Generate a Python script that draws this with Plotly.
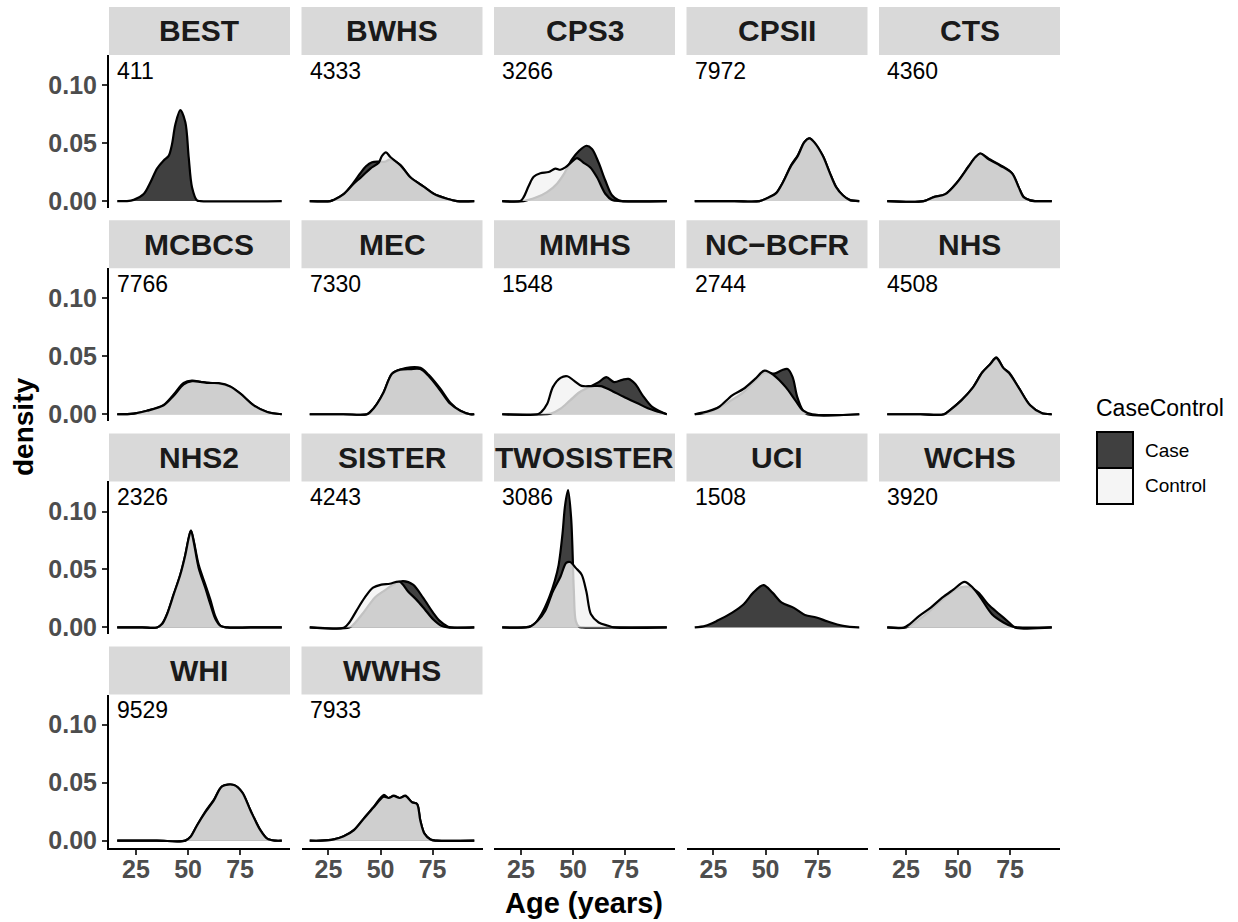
import plotly.graph_objects as go

# ---------------- data ----------------
STUDIES = ["BEST", "BWHS", "CPS3", "CPSII", "CTS", "MCBCS", "MEC", "MMHS", "NC\u2212BCFR",
           "NHS", "NHS2", "SISTER", "TWOSISTER", "UCI", "WCHS", "WHI", "WWHS"]
COUNTS = [411, 4333, 3266, 7972, 4360, 7766, 7330, 1548, 2744, 4508, 2326, 4243, 3086,
          1508, 3920, 9529, 7933]
X_TICKS = [25, 50, 75]
Y_TICKS = [0.00, 0.05, 0.10]
GROUPS = ["Case", "Control"]

# (age, density) pairs
BEST_CASE = [(16, 0), (20.7, 0), (23.9, 0.001), (28.7, 0.006), (31.9, 0.016), (35.1, 0.028),
             (38.3, 0.035), (40.7, 0.039), (42.3, 0.049), (43.9, 0.066), (46.3, 0.0785),
             (48.7, 0.068), (50.3, 0.038), (51.9, 0.012), (54.3, 0.0006), (56, 0), (95, 0)]
BEST_CONTROL = []

BWHS_CASE = [(16, 0), (25.9, 0), (27.5, 0.001), (32.3, 0.006), (37.1, 0.016), (40.3, 0.024),
             (43, 0.030), (45.9, 0.0335), (49.1, 0.034), (52.3, 0.034), (54.7, 0.036),
             (59.5, 0.031), (64.3, 0.0205), (70.7, 0.0125), (75.5, 0.0063), (81.9, 0.002),
             (86.7, 0), (95, 0)]
BWHS_CONTROL = [(16, 0), (25.9, 0), (27.5, 0.001), (32.3, 0.006), (37.1, 0.015), (40.3, 0.020),
                (45.1, 0.028), (49.1, 0.033), (50.7, 0.039), (52.6, 0.042), (54.7, 0.038),
                (59.5, 0.031), (64.3, 0.0205), (70.7, 0.0125), (75.5, 0.0063), (81.9, 0.002),
                (86.7, 0), (95, 0)]

CPS3_CASE = [(16, 0), (26.3, 0), (32.7, 0.0034), (37.5, 0.0077), (42.3, 0.015), (45.5, 0.023),
             (49.5, 0.036), (52.7, 0.043), (56.4, 0.0477), (59.1, 0.045), (62.3, 0.033),
             (65.5, 0.0177), (68.7, 0.005), (71.9, 0.0006), (74, 0), (95, 0)]
CPS3_CONTROL = [(16, 0), (24.7, 0), (26.3, 0.0034), (28.7, 0.013), (31.1, 0.021), (34.3, 0.024),
                (38.3, 0.025), (41.5, 0.028), (43.9, 0.027), (46.3, 0.029), (49.5, 0.034),
                (51.9, 0.037), (55.1, 0.033), (58.3, 0.029), (61.5, 0.0205), (65.5, 0.0063),
                (68.7, 0.001), (72.7, 0), (95, 0)]

CPSII_CASE = [(16, 0), (35, 0), (47.1, 0), (51.9, 0.0034), (55.1, 0.007), (58.3, 0.016),
              (62.3, 0.031), (65.5, 0.0395), (68.7, 0.051), (71.1, 0.054), (73.5, 0.050),
              (77.5, 0.039), (80.7, 0.025), (83.9, 0.012), (87.1, 0.005), (90.3, 0.001), (95, 0)]
CPSII_CONTROL = [(16, 0), (35, 0), (47.1, 0), (51.9, 0.0034), (55.1, 0.0068), (58.3, 0.016),
                 (62.3, 0.0305), (65.5, 0.039), (68.7, 0.051), (71.1, 0.054), (73.5, 0.0505),
                 (77.5, 0.039), (80.7, 0.025), (83.9, 0.012), (87.1, 0.005), (90.3, 0.001),
                 (95, 0)]

CTS_CASE = [(16, 0), (33.5, 0), (38.3, 0.0034), (43.9, 0.006), (49.5, 0.016), (55.1, 0.030),
            (58.3, 0.0375), (60.7, 0.041), (64.7, 0.0365), (70.3, 0.031), (75.9, 0.024),
            (79.1, 0.012), (81.5, 0.0034), (84.7, 0.0006), (87, 0), (95, 0)]
CTS_CONTROL = [(16, 0), (33.5, 0), (38.3, 0.0034), (43.9, 0.006), (49.5, 0.016), (55.1, 0.030),
               (58.3, 0.0377), (60.7, 0.041), (64.7, 0.036), (70.3, 0.0305), (75.9, 0.024),
               (79.1, 0.012), (81.5, 0.0034), (84.7, 0.0006), (87, 0), (95, 0)]

MCBCS_CASE = [(16, 0), (23.9, 0.0006), (30.3, 0.003), (38.3, 0.008), (43.1, 0.017), (47.9, 0.027),
              (51.9, 0.029), (55.9, 0.028), (59.9, 0.027), (64.7, 0.0265), (70.3, 0.0235),
              (75.2, 0.0175), (81.6, 0.0075), (88, 0.002), (95, 0)]
MCBCS_CONTROL = [(16, 0), (23.9, 0.0006), (30.3, 0.003), (38.3, 0.0077), (43.1, 0.016),
                 (47.9, 0.0257), (51.9, 0.0285), (55.9, 0.028), (59.9, 0.027), (64.7, 0.0268),
                 (70.3, 0.024), (75.2, 0.0177), (81.6, 0.0077), (88, 0.002), (95, 0)]

MEC_CASE = [(16, 0), (32, 0), (43.5, 0), (45.1, 0.002), (48.3, 0.009), (51.5, 0.019), (55.5, 0.035),
            (59.5, 0.0385), (64.3, 0.0405), (69.1, 0.040), (73.1, 0.034), (78.7, 0.022),
            (83.5, 0.010), (88.3, 0.003), (93, 0), (95, 0)]
MEC_CONTROL = [(16, 0), (32, 0), (43.5, 0), (45.1, 0.002), (48.3, 0.009), (51.5, 0.019),
               (55.5, 0.035), (59.5, 0.0385), (64.3, 0.039), (69.1, 0.039), (73.1, 0.033),
               (78.7, 0.0205), (83.5, 0.009), (88.3, 0.003), (93, 0), (95, 0)]

MMHS_CASE = [(16, 0), (37, 0), (39.4, 0.0006), (44, 0.0049), (48.6, 0.012), (53.1, 0.019),
             (57.7, 0.0234), (62.3, 0.0277), (66, 0.032), (69.7, 0.0277), (73.7, 0.0297),
             (76.6, 0.0305), (79.8, 0.0263), (83.4, 0.0163), (88, 0.0063), (93.5, 0.0011), (95, 0)]
MMHS_CONTROL = [(16, 0), (33, 0), (34.8, 0.002), (37.6, 0.009), (40.3, 0.0234), (44, 0.0314),
                (47.3, 0.0328), (50.4, 0.029), (54.1, 0.0245), (58.7, 0.0243), (63.3, 0.0243),
                (67.8, 0.021), (74.3, 0.015), (80.7, 0.0097), (86.2, 0.0049), (91.7, 0.0017),
                (95, 0)]

NCBCFR_CASE = [(16, 0), (23, 0.002), (32.2, 0.0106), (39.5, 0.019), (45, 0.029), (49.6, 0.036),
               (54.2, 0.035), (57.8, 0.038), (60.6, 0.039), (63, 0.032), (65.2, 0.015),
               (67.9, 0.0034), (70, 0), (95, 0)]
NCBCFR_CONTROL = [(16, 0), (23, 0.0029), (27.6, 0.0063), (34, 0.0163), (39.5, 0.022), (45, 0.0305),
                  (49.6, 0.0377), (54.2, 0.0334), (59.7, 0.0234), (64.3, 0.012), (67.9, 0.0034),
                  (72.5, 0), (95, 0)]

NHS_CASE = [(16, 0), (32, 0), (43.3, 0), (46, 0.0034), (51.6, 0.012), (57.1, 0.023), (61.6, 0.036),
            (65.3, 0.043), (68.4, 0.049), (71.7, 0.040), (74.5, 0.036), (79.1, 0.023),
            (84.6, 0.0077), (90.1, 0.001), (94.7, 0), (95, 0)]
NHS_CONTROL = [(16, 0), (32, 0), (43.3, 0), (46, 0.0034), (51.6, 0.012), (57.1, 0.023),
               (61.6, 0.036), (65.3, 0.043), (68.4, 0.0485), (71.7, 0.040), (74.5, 0.0355),
               (79.1, 0.023), (84.6, 0.0077), (90.1, 0.001), (94.7, 0), (95, 0)]

NHS2_CASE = [(16, 0), (28, 0), (35.1, 0), (37.5, 0.0029), (39.9, 0.0114), (43.1, 0.0285),
             (46.3, 0.0457), (48.7, 0.0628), (50.3, 0.077), (51.4, 0.0836), (52.7, 0.075),
             (55.1, 0.054), (58.3, 0.037), (60.7, 0.024), (63.2, 0.009), (65.6, 0.0014),
             (68.8, 0), (80, 0), (95, 0)]
NHS2_CONTROL = [(16, 0), (28, 0), (35.1, 0), (37.5, 0.0029), (39.9, 0.0114), (43.1, 0.0285),
                (46.3, 0.0457), (48.7, 0.0628), (50.3, 0.077), (51.4, 0.0836), (52.7, 0.074),
                (55.1, 0.0514), (58.3, 0.034), (60.7, 0.020), (63.2, 0.0071), (65.6, 0.0014),
                (68.8, 0), (80, 0), (95, 0)]

SISTER_CASE = [(16, 0), (35, 0), (37.2, 0.0029), (42.4, 0.0143), (47.2, 0.0257), (52, 0.032),
               (57.6, 0.0385), (60.8, 0.040), (65.6, 0.037), (70.4, 0.0257), (75.2, 0.0128),
               (78.4, 0.0057), (82.4, 0.0006), (84, 0), (95, 0)]
SISTER_CONTROL = [(16, 0), (32.6, 0), (35, 0.0043), (38.4, 0.0143), (42.4, 0.0257), (46.4, 0.0343),
                  (50.4, 0.037), (54.4, 0.0377), (59.2, 0.0394), (63.2, 0.031), (67.2, 0.024),
                  (71.2, 0.0157), (75.2, 0.0071), (79.2, 0.0014), (82.4, 0), (95, 0)]

TWOSISTER_CASE = [(16, 0), (26.6, 0), (28.3, 0.0006), (31.1, 0.0023), (34.8, 0.0114),
                  (38.5, 0.0257), (41.2, 0.040), (43.1, 0.054), (44.9, 0.080), (46.2, 0.1056),
                  (47.6, 0.1184), (49.1, 0.094), (50.4, 0.031), (51.3, 0.0057), (52.8, 0.0006),
                  (54.5, 0), (70, 0), (95, 0)]
TWOSISTER_CONTROL = [(16, 0), (27, 0), (29.3, 0.0006), (33, 0.0057), (36.6, 0.0143), (40.3, 0.031),
                     (44, 0.044), (46.7, 0.0557), (48.6, 0.0565), (51.3, 0.0514), (54.1, 0.0457),
                     (56.4, 0.031), (58.6, 0.0114), (62.3, 0.0043), (66.9, 0.0014), (69.6, 0),
                     (95, 0)]

UCI_CASE = [(16, 0), (21.1, 0.0014), (26.7, 0.0057), (34, 0.0128), (39.5, 0.020), (44.1, 0.030),
            (49, 0.0365), (53.3, 0.030), (57.8, 0.0214), (63.4, 0.0171), (68.9, 0.0108),
            (74.4, 0.0086), (79.9, 0.0051), (87.2, 0.0014), (94.5, 0), (95, 0)]
UCI_CONTROL = []

WCHS_CASE = [(16, 0), (25, 0), (31.4, 0.007), (36.9, 0.015), (42.4, 0.024), (49.7, 0.0337),
             (55.2, 0.035), (59.8, 0.030), (64.4, 0.020), (69.9, 0.0114), (74.5, 0.0043),
             (77.3, 0), (95, 0)]
WCHS_CONTROL = [(16, 0), (24, 0), (26.8, 0.0029), (31.4, 0.010), (36.9, 0.0171), (42.4, 0.0257),
                (47.9, 0.0328), (53.1, 0.0394), (57.1, 0.0343), (60.8, 0.0257), (66.3, 0.0114),
                (71.8, 0.0043), (76.4, 0.0006), (79, 0), (95, 0)]

WHI_CASE = [(16, 0), (35, 0), (48.7, 0), (51.1, 0.0031), (54.3, 0.0131), (58.3, 0.025),
            (62.3, 0.035), (66.4, 0.047), (72, 0.048), (76, 0.0417), (80, 0.026), (84.8, 0.0088),
            (88, 0.0017), (92, 0), (95, 0)]
WHI_CONTROL = [(16, 0), (35, 0), (48.7, 0), (51.1, 0.0031), (54.3, 0.0131), (58.3, 0.0245),
               (62.3, 0.0345), (66.4, 0.0468), (72, 0.048), (76, 0.0417), (80, 0.026),
               (84.8, 0.0088), (88, 0.0017), (92, 0), (95, 0)]

WWHS_CASE = [(16, 0), (21.1, 0), (27.5, 0.0011), (32.3, 0.0037), (37.1, 0.009), (41.9, 0.019),
             (46.7, 0.029), (51.5, 0.0394), (53.9, 0.0368), (56.3, 0.0388), (59.2, 0.0368),
             (61.9, 0.0388), (65.1, 0.0331), (67.5, 0.0317), (69.1, 0.0174), (71.1, 0.006),
             (74, 0.0009), (77, 0), (95, 0)]
WWHS_CONTROL = [(16, 0), (21.1, 0), (27.5, 0.0011), (32.3, 0.0037), (37.1, 0.0088), (41.9, 0.0188),
                (46.7, 0.0288), (51.5, 0.038), (53.9, 0.0368), (56.3, 0.0385), (59.2, 0.0368),
                (61.9, 0.0385), (65.1, 0.0331), (67.5, 0.0317), (69.1, 0.0174), (71.1, 0.006),
                (74, 0.0009), (77, 0), (95, 0)]

CASE_CURVES = [BEST_CASE, BWHS_CASE, CPS3_CASE, CPSII_CASE, CTS_CASE, MCBCS_CASE, MEC_CASE,
               MMHS_CASE, NCBCFR_CASE, NHS_CASE, NHS2_CASE, SISTER_CASE, TWOSISTER_CASE,
               UCI_CASE, WCHS_CASE, WHI_CASE, WWHS_CASE]
CONTROL_CURVES = [BEST_CONTROL, BWHS_CONTROL, CPS3_CONTROL, CPSII_CONTROL, CTS_CONTROL,
                  MCBCS_CONTROL, MEC_CONTROL, MMHS_CONTROL, NCBCFR_CONTROL, NHS_CONTROL,
                  NHS2_CONTROL, SISTER_CONTROL, TWOSISTER_CONTROL, UCI_CONTROL, WCHS_CONTROL,
                  WHI_CONTROL, WWHS_CONTROL]

# ---------------- style / layout ----------------
W, H = 1238, 922
NCOL, NROW = 5, 4
COL_LEFT0, COL_PITCH, PANEL_W = 109, 192.5, 181
ROW_TOP0, ROW_PITCH, PANEL_H, STRIP_H = 55, 213.2, 153, 48
X_RANGE = [12.05, 98.95]
Y_RANGE = [-0.006, 0.126]
FONT = "Liberation Sans"
CASE_FILL = "#404040"
CONTROL_FILL = "rgba(242,242,242,0.8)"
FILLS = {"Case": CASE_FILL, "Control": CONTROL_FILL}

fig = go.Figure()
layout = dict(width=W, height=H, margin=dict(l=0, r=0, t=0, b=0, pad=0),
              paper_bgcolor="white", plot_bgcolor="white", showlegend=False,
              font=dict(family=FONT, color="black"))
shapes, annotations = [], []

tickfont = dict(family=FONT, size=25, color="#4d4d4d", weight="bold")

for slot in range(NCOL * NROW):
    r, c = divmod(slot, NCOL)
    k = slot + 1
    xkey = "xaxis" if k == 1 else f"xaxis{k}"
    ykey = "yaxis" if k == 1 else f"yaxis{k}"
    xref = "x" if k == 1 else f"x{k}"
    yref = "y" if k == 1 else f"y{k}"
    left = COL_LEFT0 + c * COL_PITCH
    top = ROW_TOP0 + r * ROW_PITCH
    bottom = top + PANEL_H
    xd = [left / W, (left + PANEL_W) / W]
    yd = [1 - bottom / H, 1 - top / H]
    has_panel = slot < len(STUDIES)
    show_x = (r == NROW - 1)
    show_y = has_panel and c == 0
    layout[xkey] = dict(domain=xd, range=X_RANGE, anchor=yref, showgrid=False, zeroline=False,
                        showline=show_x, linecolor="black", linewidth=2,
                        ticks="outside" if show_x else "", ticklen=5, tickwidth=2,
                        tickcolor="#333333", tickvals=X_TICKS, showticklabels=show_x,
                        ticklabelstandoff=-7,
                        tickfont=tickfont, fixedrange=True, automargin=False)
    layout[ykey] = dict(domain=yd, range=Y_RANGE, anchor=xref, showgrid=False, zeroline=False,
                        showline=show_y, linecolor="black", linewidth=2,
                        ticks="outside" if show_y else "", ticklen=5, tickwidth=2,
                        tickcolor="#333333", tickvals=Y_TICKS, tickformat=".2f",
                        showticklabels=show_y, tickfont=tickfont, fixedrange=True,
                        automargin=False)
    if not has_panel:
        # empty facet slot: keep only its bottom axis (no marks)
        fig.add_trace(go.Scatter(x=[], y=[], xaxis=xref, yaxis=yref, mode="lines",
                                 hoverinfo="skip"))
        continue
    # strip
    shapes.append(dict(type="rect", xref="paper", yref="paper", x0=xd[0], x1=xd[1],
                       y0=1 - top / H, y1=1 - (top - STRIP_H) / H,
                       fillcolor="#d9d9d9", line=dict(width=0), layer="below"))
    annotations.append(dict(xref="paper", yref="paper", x=(xd[0] + xd[1]) / 2,
                            y=1 - (top - STRIP_H / 2) / H, text=STUDIES[slot], showarrow=False,
                            xanchor="center", yanchor="middle",
                            font=dict(family=FONT, size=30, color="#1a1a1a", weight="bold")))
    # count label
    annotations.append(dict(xref=xref, yref=yref, x=15.0, y=0.1125, text=str(COUNTS[slot]),
                            showarrow=False, xanchor="left", yanchor="middle",
                            font=dict(family=FONT, size=23, color="black")))
    for grp, curve in zip(GROUPS, [CASE_CURVES[slot], CONTROL_CURVES[slot]]):
        if not curve:
            continue
        ages = [p[0] for p in curve]
        dens = [p[1] for p in curve]
        fig.add_trace(go.Scatter(x=ages, y=dens, xaxis=xref, yaxis=yref, mode="lines",
                                 line=dict(color="black", width=2.2, shape="spline",
                                           smoothing=0.9),
                                 fill="tozeroy", fillcolor=FILLS[grp], name=grp,
                                 hoverinfo="skip"))

# axis titles
annotations.append(dict(xref="paper", yref="paper", x=23 / W, y=1 - 427 / H, text="density",
                        textangle=-90, showarrow=False, xanchor="center", yanchor="middle",
                        font=dict(family=FONT, size=28, color="black", weight="bold")))
annotations.append(dict(xref="paper", yref="paper", x=584 / W, y=1 - 903 / H, text="Age (years)",
                        showarrow=False, xanchor="center", yanchor="middle",
                        font=dict(family=FONT, size=29, color="black", weight="bold")))

# legend (drawn manually to match ggplot key boxes)
LEG_X0, LEG_KEY = 1097, 36
leg_tops = [432, 468]
annotations.append(dict(xref="paper", yref="paper", x=(LEG_X0 - 3) / W, y=1 - 408 / H,
                        text="CaseControl", showarrow=False, xanchor="left", yanchor="middle",
                        font=dict(family=FONT, size=23, color="black")))
for grp, t in zip(GROUPS, leg_tops):
    shapes.append(dict(type="rect", xref="paper", yref="paper", x0=LEG_X0 / W,
                       x1=(LEG_X0 + LEG_KEY) / W, y0=1 - (t + LEG_KEY) / H, y1=1 - t / H,
                       fillcolor=FILLS[grp], line=dict(color="black", width=2)))
    annotations.append(dict(xref="paper", yref="paper", x=(LEG_X0 + LEG_KEY + 10) / W,
                            y=1 - (t + LEG_KEY / 2) / H, text=grp, showarrow=False,
                            xanchor="left", yanchor="middle",
                            font=dict(family=FONT, size=19, color="black")))

layout["shapes"] = shapes
layout["annotations"] = annotations
fig.update_layout(**layout)
fig.write_html("out.html", config={"displayModeBar": False},
               post_script="document.body.style.margin='0px';")
